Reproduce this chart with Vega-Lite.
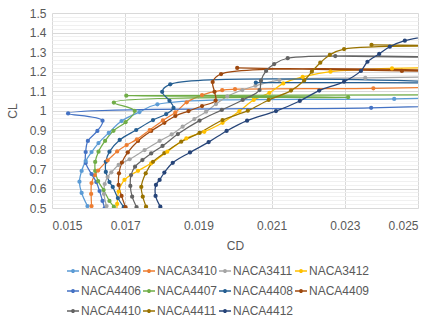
{
"$schema":"https://vega.github.io/schema/vega-lite/v6.json",
"width":366,"height":195,
"autosize":{"type":"none"},
"padding":{"left":52,"top":13,"right":18,"bottom":118},
"background":"white",
"config":{"view":{"stroke":null},"font":"Liberation Sans"},
"data":{"values":[
{"s":"NACA3409","CD":0.01597,"CL":0.510},{"s":"NACA3409","CD":0.01581,"CL":0.577},{"s":"NACA3409","CD":0.01575,"CL":0.635},{"s":"NACA3409","CD":0.01581,"CL":0.690},{"s":"NACA3409","CD":0.01592,"CL":0.741},{"s":"NACA3409","CD":0.01608,"CL":0.787},{"s":"NACA3409","CD":0.01627,"CL":0.833},{"s":"NACA3409","CD":0.01655,"CL":0.885},{"s":"NACA3409","CD":0.0169,"CL":0.946},{"s":"NACA3409","CD":0.01739,"CL":0.992},{"s":"NACA3409","CD":0.01788,"CL":1.032},{"s":"NACA3409","CD":0.02435,"CL":1.059},{"s":"NACA3409","CD":0.027,"CL":1.07},
{"s":"NACA3410","CD":0.01608,"CL":0.510},{"s":"NACA3410","CD":0.01607,"CL":0.572},{"s":"NACA3410","CD":0.01608,"CL":0.628},{"s":"NACA3410","CD":0.01617,"CL":0.669},{"s":"NACA3410","CD":0.01626,"CL":0.692},{"s":"NACA3410","CD":0.01652,"CL":0.744},{"s":"NACA3410","CD":0.01678,"CL":0.790},{"s":"NACA3410","CD":0.01704,"CL":0.823},{"s":"NACA3410","CD":0.01732,"CL":0.852},{"s":"NACA3410","CD":0.01767,"CL":0.900},{"s":"NACA3410","CD":0.01803,"CL":0.949},{"s":"NACA3410","CD":0.01837,"CL":0.990},{"s":"NACA3410","CD":0.01868,"CL":1.042},{"s":"NACA3410","CD":0.0191,"CL":1.079},{"s":"NACA3410","CD":0.01965,"CL":1.104},{"s":"NACA3410","CD":0.0200,"CL":1.109},{"s":"NACA3410","CD":0.02378,"CL":1.114},{"s":"NACA3410","CD":0.027,"CL":1.125},
{"s":"NACA3411","CD":0.01649,"CL":0.510},{"s":"NACA3411","CD":0.01642,"CL":0.572},{"s":"NACA3411","CD":0.01644,"CL":0.623},{"s":"NACA3411","CD":0.01652,"CL":0.659},{"s":"NACA3411","CD":0.01662,"CL":0.683},{"s":"NACA3411","CD":0.01682,"CL":0.721},{"s":"NACA3411","CD":0.01712,"CL":0.750},{"s":"NACA3411","CD":0.01753,"CL":0.797},{"s":"NACA3411","CD":0.01794,"CL":0.844},{"s":"NACA3411","CD":0.01827,"CL":0.877},{"s":"NACA3411","CD":0.01857,"CL":0.917},{"s":"NACA3411","CD":0.01889,"CL":0.956},{"s":"NACA3411","CD":0.01921,"CL":0.994},{"s":"NACA3411","CD":0.01948,"CL":1.033},{"s":"NACA3411","CD":0.01979,"CL":1.072},{"s":"NACA3411","CD":0.0202,"CL":1.105},{"s":"NACA3411","CD":0.02056,"CL":1.127},{"s":"NACA3411","CD":0.02121,"CL":1.156},{"s":"NACA3411","CD":0.02356,"CL":1.167},{"s":"NACA3411","CD":0.027,"CL":1.175},
{"s":"NACA3412","CD":0.01677,"CL":0.47},{"s":"NACA3412","CD":0.01678,"CL":0.521},{"s":"NACA3412","CD":0.01682,"CL":0.584},{"s":"NACA3412","CD":0.01698,"CL":0.644},{"s":"NACA3412","CD":0.01735,"CL":0.691},{"s":"NACA3412","CD":0.01771,"CL":0.729},{"s":"NACA3412","CD":0.01815,"CL":0.789},{"s":"NACA3412","CD":0.01867,"CL":0.857},{"s":"NACA3412","CD":0.01916,"CL":0.891},{"s":"NACA3412","CD":0.01966,"CL":0.937},{"s":"NACA3412","CD":0.02012,"CL":0.997},{"s":"NACA3412","CD":0.02051,"CL":1.054},{"s":"NACA3412","CD":0.02094,"CL":1.091},{"s":"NACA3412","CD":0.02132,"CL":1.139},{"s":"NACA3412","CD":0.02185,"CL":1.172},{"s":"NACA3412","CD":0.02261,"CL":1.199},{"s":"NACA3412","CD":0.02429,"CL":1.216},{"s":"NACA3412","CD":0.027,"CL":1.218},
{"s":"NACA4406","CD":0.01644,"CL":0.50},{"s":"NACA4406","CD":0.01638,"CL":0.536},{"s":"NACA4406","CD":0.0163,"CL":0.587},{"s":"NACA4406","CD":0.01621,"CL":0.633},{"s":"NACA4406","CD":0.01608,"CL":0.674},{"s":"NACA4406","CD":0.01592,"CL":0.731},{"s":"NACA4406","CD":0.01592,"CL":0.787},{"s":"NACA4406","CD":0.01598,"CL":0.844},{"s":"NACA4406","CD":0.01624,"CL":0.895},{"s":"NACA4406","CD":0.01638,"CL":0.948},{"s":"NACA4406","CD":0.01544,"CL":0.985},{"s":"NACA4406","CD":0.02372,"CL":1.014},{"s":"NACA4406","CD":0.027,"CL":1.03},
{"s":"NACA4407","CD":0.01669,"CL":0.507},{"s":"NACA4407","CD":0.01657,"CL":0.536},{"s":"NACA4407","CD":0.01641,"CL":0.592},{"s":"NACA4407","CD":0.01626,"CL":0.638},{"s":"NACA4407","CD":0.01618,"CL":0.690},{"s":"NACA4407","CD":0.01618,"CL":0.736},{"s":"NACA4407","CD":0.01627,"CL":0.789},{"s":"NACA4407","CD":0.01645,"CL":0.844},{"s":"NACA4407","CD":0.01668,"CL":0.896},{"s":"NACA4407","CD":0.01701,"CL":0.940},{"s":"NACA4407","CD":0.01726,"CL":0.998},{"s":"NACA4407","CD":0.01669,"CL":1.041},{"s":"NACA4407","CD":0.01703,"CL":1.076},{"s":"NACA4407","CD":0.02309,"CL":1.068},{"s":"NACA4407","CD":0.027,"CL":1.08},
{"s":"NACA4408","CD":0.01696,"CL":0.504},{"s":"NACA4408","CD":0.0168,"CL":0.551},{"s":"NACA4408","CD":0.01666,"CL":0.608},{"s":"NACA4408","CD":0.01657,"CL":0.633},{"s":"NACA4408","CD":0.01647,"CL":0.685},{"s":"NACA4408","CD":0.01647,"CL":0.737},{"s":"NACA4408","CD":0.01657,"CL":0.789},{"s":"NACA4408","CD":0.01685,"CL":0.849},{"s":"NACA4408","CD":0.0173,"CL":0.900},{"s":"NACA4408","CD":0.01776,"CL":0.951},{"s":"NACA4408","CD":0.01812,"CL":0.982},{"s":"NACA4408","CD":0.01832,"CL":1.013},{"s":"NACA4408","CD":0.01821,"CL":1.050},{"s":"NACA4408","CD":0.01801,"CL":1.096},{"s":"NACA4408","CD":0.01823,"CL":1.134},{"s":"NACA4408","CD":0.02057,"CL":1.143},{"s":"NACA4408","CD":0.027,"CL":1.141},
{"s":"NACA4409","CD":0.01701,"CL":0.504},{"s":"NACA4409","CD":0.0169,"CL":0.562},{"s":"NACA4409","CD":0.01682,"CL":0.618},{"s":"NACA4409","CD":0.01683,"CL":0.678},{"s":"NACA4409","CD":0.01691,"CL":0.733},{"s":"NACA4409","CD":0.01707,"CL":0.785},{"s":"NACA4409","CD":0.01735,"CL":0.844},{"s":"NACA4409","CD":0.01771,"CL":0.895},{"s":"NACA4409","CD":0.01807,"CL":0.937},{"s":"NACA4409","CD":0.01837,"CL":0.972},{"s":"NACA4409","CD":0.01873,"CL":0.997},{"s":"NACA4409","CD":0.0191,"CL":1.023},{"s":"NACA4409","CD":0.01947,"CL":1.051},{"s":"NACA4409","CD":0.01944,"CL":1.096},{"s":"NACA4409","CD":0.01939,"CL":1.146},{"s":"NACA4409","CD":0.01962,"CL":1.187},{"s":"NACA4409","CD":0.02006,"CL":1.218},{"s":"NACA4409","CD":0.02456,"CL":1.203},{"s":"NACA4409","CD":0.027,"CL":1.2},
{"s":"NACA4410","CD":0.01731,"CL":0.505},{"s":"NACA4410","CD":0.01719,"CL":0.558},{"s":"NACA4410","CD":0.01714,"CL":0.613},{"s":"NACA4410","CD":0.01716,"CL":0.669},{"s":"NACA4410","CD":0.01727,"CL":0.712},{"s":"NACA4410","CD":0.01747,"CL":0.746},{"s":"NACA4410","CD":0.01771,"CL":0.780},{"s":"NACA4410","CD":0.01802,"CL":0.818},{"s":"NACA4410","CD":0.01844,"CL":0.879},{"s":"NACA4410","CD":0.01903,"CL":0.948},{"s":"NACA4410","CD":0.01964,"CL":1.003},{"s":"NACA4410","CD":0.02021,"CL":1.054},{"s":"NACA4410","CD":0.02067,"CL":1.105},{"s":"NACA4410","CD":0.02071,"CL":1.153},{"s":"NACA4410","CD":0.02085,"CL":1.203},{"s":"NACA4410","CD":0.02107,"CL":1.238},{"s":"NACA4410","CD":0.02144,"CL":1.268},{"s":"NACA4410","CD":0.02274,"CL":1.279},{"s":"NACA4410","CD":0.027,"CL":1.268},
{"s":"NACA4411","CD":0.01757,"CL":0.507},{"s":"NACA4411","CD":0.01748,"CL":0.558},{"s":"NACA4411","CD":0.01744,"CL":0.608},{"s":"NACA4411","CD":0.01756,"CL":0.678},{"s":"NACA4411","CD":0.01776,"CL":0.737},{"s":"NACA4411","CD":0.01807,"CL":0.782},{"s":"NACA4411","CD":0.01853,"CL":0.840},{"s":"NACA4411","CD":0.01903,"CL":0.885},{"s":"NACA4411","CD":0.01966,"CL":0.951},{"s":"NACA4411","CD":0.02035,"CL":0.999},{"s":"NACA4411","CD":0.02092,"CL":1.054},{"s":"NACA4411","CD":0.02153,"CL":1.102},{"s":"NACA4411","CD":0.02189,"CL":1.154},{"s":"NACA4411","CD":0.0221,"CL":1.199},{"s":"NACA4411","CD":0.02233,"CL":1.245},{"s":"NACA4411","CD":0.02259,"CL":1.285},{"s":"NACA4411","CD":0.02298,"CL":1.315},{"s":"NACA4411","CD":0.02373,"CL":1.336},{"s":"NACA4411","CD":0.027,"CL":1.33},
{"s":"NACA4412","CD":0.01796,"CL":0.507},{"s":"NACA4412","CD":0.01783,"CL":0.562},{"s":"NACA4412","CD":0.01784,"CL":0.618},{"s":"NACA4412","CD":0.01794,"CL":0.644},{"s":"NACA4412","CD":0.01807,"CL":0.682},{"s":"NACA4412","CD":0.0183,"CL":0.732},{"s":"NACA4412","CD":0.01877,"CL":0.785},{"s":"NACA4412","CD":0.01928,"CL":0.838},{"s":"NACA4412","CD":0.01977,"CL":0.895},{"s":"NACA4412","CD":0.02033,"CL":0.948},{"s":"NACA4412","CD":0.02112,"CL":0.997},{"s":"NACA4412","CD":0.02177,"CL":1.049},{"s":"NACA4412","CD":0.0223,"CL":1.102},{"s":"NACA4412","CD":0.02298,"CL":1.148},{"s":"NACA4412","CD":0.02344,"CL":1.203},{"s":"NACA4412","CD":0.02362,"CL":1.250},{"s":"NACA4412","CD":0.02394,"CL":1.290},{"s":"NACA4412","CD":0.02423,"CL":1.327},{"s":"NACA4412","CD":0.02464,"CL":1.358},{"s":"NACA4412","CD":0.0253,"CL":1.382}
]},
"mark":{"type":"line","interpolate":"catmull-rom","strokeWidth":1.25,"clip":true,"point":{"filled":true,"size":18}},
"encoding":{
"x":{"field":"CD","type":"quantitative","scale":{"domain":[0.015,0.025],"nice":false,"zero":false},
 "axis":{"title":"CD","values":[0.015,0.017,0.019,0.021,0.023,0.025],"format":".3f","grid":true,"gridColor":"#D9D9D9","domain":false,"ticks":false,"labelFontSize":12,"labelColor":"#595959","labelPadding":12,"titleFontSize":12,"titleFontWeight":"normal","titleColor":"#595959","titlePadding":9,"labelFont":"Liberation Sans","titleFont":"Liberation Sans"}},
"y":{"field":"CL","type":"quantitative","scale":{"domain":[0.5,1.5],"nice":false,"zero":false},
 "axis":{"title":"CL","values":[0.5,0.52,0.54,0.56,0.58,0.6,0.62,0.64,0.66,0.68,0.7,0.72,0.74,0.76,0.78,0.8,0.82,0.84,0.86,0.88,0.9,0.92,0.94,0.96,0.98,1,1.02,1.04,1.06,1.08,1.1,1.12,1.14,1.16,1.18,1.2,1.22,1.24,1.26,1.28,1.3,1.32,1.34,1.36,1.38,1.4,1.42,1.44,1.46,1.48,1.5],
 "labelExpr":"abs(datum.value*10-round(datum.value*10))<0.001 ? format(datum.value,'.2~g') : ''","labelOverlap":false,
 "grid":true,"gridColor":{"condition":{"test":"abs(datum.value*10-round(datum.value*10))<0.001","value":"#D9D9D9"},"value":"#F0F0F0"},
 "domain":false,"ticks":false,"labelFontSize":12,"labelColor":"#595959","labelPadding":6,"titleFontSize":12,"titleFontWeight":"normal","titleColor":"#595959","titlePadding":10,"labelFont":"Liberation Sans","titleFont":"Liberation Sans"}},
"color":{"field":"s","type":"nominal","scale":{"domain":["NACA3409","NACA3410","NACA3411","NACA3412","NACA4406","NACA4407","NACA4408","NACA4409","NACA4410","NACA4411","NACA4412"],"range":["#5B9BD5","#ED7D31","#A5A5A5","#FFC000","#4472C4","#70AD47","#255E91","#9E480E","#636363","#997300","#264478"]},
 "legend":{"title":null,"orient":"none","legendX":14,"legendY":251,"direction":"horizontal","columns":4,"columnPadding":-2,"rowPadding":7,"symbolType":"M-1,0L1,0M0.2,0A0.2,0.2,0,1,1,-0.2,0A0.2,0.2,0,1,1,0.2,0","symbolSize":144,"symbolStrokeWidth":1.5,"labelFontSize":12,"labelColor":"#595959","labelFont":"Liberation Sans","labelOffset":1}},
"order":{"field":"CL","type":"quantitative"}
}
}
